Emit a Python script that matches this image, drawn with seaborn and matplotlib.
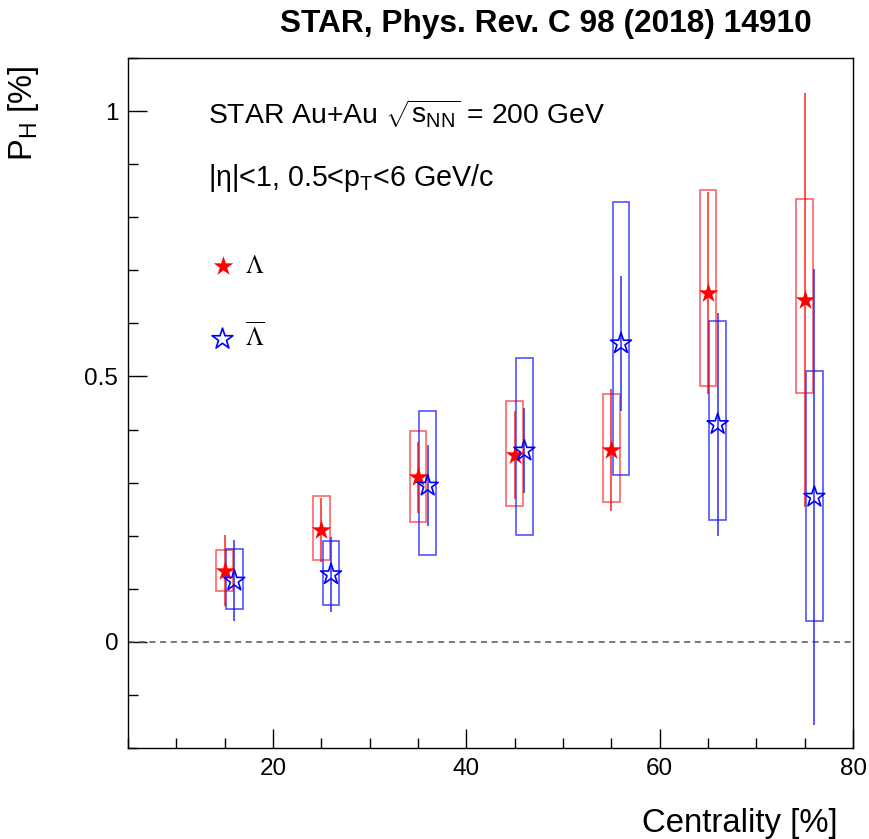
import matplotlib
matplotlib.use("Agg")
import matplotlib.pyplot as plt
import seaborn as sns
import numpy as np
from matplotlib.ticker import MultipleLocator, FixedLocator, FixedFormatter

# ---------------- data ----------------
lam_x = [15, 25, 35, 45, 55, 65, 75]
lam_y = [0.134, 0.211, 0.310, 0.352, 0.361, 0.657, 0.645]
lam_stat = [0.067, 0.060, 0.067, 0.082, 0.115, 0.190, 0.390]
lam_sys_lo = [0.095, 0.154, 0.225, 0.256, 0.264, 0.482, 0.469]
lam_sys_hi = [0.173, 0.274, 0.397, 0.454, 0.467, 0.852, 0.834]

alam_x = [16, 26, 36, 46, 56, 66, 76]
alam_y = [0.115, 0.127, 0.294, 0.360, 0.562, 0.410, 0.273]
alam_stat = [0.076, 0.070, 0.076, 0.080, 0.127, 0.210, 0.430]
alam_sys_lo = [0.061, 0.070, 0.164, 0.202, 0.315, 0.229, 0.039]
alam_sys_hi = [0.174, 0.190, 0.434, 0.534, 0.828, 0.605, 0.511]

x_major = [20, 40, 60, 80]
x_major_labels = ["20", "40", "60", "80"]
y_major = [0.0, 0.5, 1.0]
y_major_labels = ["0", "0.5", "1"]

title_text = "STAR, Phys. Rev. C 98 (2018) 14910"
line1_text = r"STAR Au+Au $\sqrt{\mathrm{s}_{\mathrm{NN}}}$ = 200 GeV"
line2_text = r"|η|<1, 0.5<p$_{\mathrm{T}}$<6 GeV/c"
xlabel_text = "Centrality [%]"
ylabel_text = r"P$_{\mathrm{H}}$ [%]"
lam_label = r"$\Lambda$"
alam_label = r"$\overline{\Lambda}$"

# ---------------- style ----------------
sns.set_style("ticks")
plt.rcParams["font.family"] = ["Liberation Sans", "DejaVu Sans"]
plt.rcParams["mathtext.fontset"] = "custom"
plt.rcParams["mathtext.rm"] = "Liberation Sans"
plt.rcParams["mathtext.it"] = "Liberation Sans:italic"
plt.rcParams["mathtext.bf"] = "Liberation Sans:bold"
plt.rcParams["text.color"] = "black"
plt.rcParams["axes.labelcolor"] = "black"
plt.rcParams["xtick.color"] = "black"
plt.rcParams["ytick.color"] = "black"
plt.rcParams["xtick.labelcolor"] = "black"
plt.rcParams["ytick.labelcolor"] = "black"

W, H = 869, 839
fig = plt.figure(figsize=(W / 100, H / 100), dpi=100)
fig.patch.set_facecolor("white")
ax = fig.add_axes([128 / W, 1 - 748 / H, (853 - 128) / W, (748 - 58) / H])
ax.set_facecolor("white")

red = "#ff0000"
blue = "#0000ff"
box_w = 1.7

# systematic boxes
ax.bar(lam_x, np.array(lam_sys_hi) - np.array(lam_sys_lo), bottom=lam_sys_lo,
       width=box_w, fill=False, edgecolor=(1, 0, 0, 0.6), linewidth=1.2, zorder=2)
ax.bar(alam_x, np.array(alam_sys_hi) - np.array(alam_sys_lo), bottom=alam_sys_lo,
       width=box_w, fill=False, edgecolor=(0.1, 0.1, 1, 0.75), linewidth=1.2, zorder=2)

# statistical error bars
ax.errorbar(lam_x, lam_y, yerr=lam_stat, fmt="none", ecolor=(1, 0, 0, 0.8),
            elinewidth=1.2, capsize=0, zorder=3)
ax.errorbar(alam_x, alam_y, yerr=alam_stat, fmt="none", ecolor=(0.1, 0.1, 1, 0.85),
            elinewidth=1.2, capsize=0, zorder=3)

# points
sns.scatterplot(x=lam_x, y=lam_y, marker="*", s=220, color=red, linewidth=0,
                ax=ax, zorder=5, label=lam_label)
sns.scatterplot(x=alam_x, y=alam_y, marker="*", s=250, facecolors="none",
                edgecolors=blue, linewidth=1.2, ax=ax, zorder=5, label=alam_label)

# zero line
ax.axhline(0, color="#555555", linestyle=(0, (4, 3)), linewidth=1.1, zorder=1)

# axes
ax.set_xlim(5, 80)
ax.set_ylim(-0.2, 1.1)
ax.xaxis.set_major_locator(FixedLocator(x_major))
ax.xaxis.set_major_formatter(FixedFormatter(x_major_labels))
ax.xaxis.set_minor_locator(MultipleLocator(5))
ax.yaxis.set_major_locator(FixedLocator(y_major))
ax.yaxis.set_major_formatter(FixedFormatter(y_major_labels))
ax.yaxis.set_minor_locator(MultipleLocator(0.1))
ax.tick_params(which="both", direction="in", top=False, right=False,
               color="black", labelcolor="black")
ax.tick_params(which="major", length=14, width=1.0, labelsize=17.5, pad=7)
ax.tick_params(which="minor", length=7, width=1.0)
for s in ax.spines.values():
    s.set_visible(True)
    s.set_color("black")
    s.set_linewidth(1.0)
ax.set_xlabel("")
ax.set_ylabel("")

# legend
leg = ax.legend(loc="upper left", bbox_to_anchor=(210 / W, 1 - 254 / H),
                bbox_transform=fig.transFigure, frameon=False, fontsize=18,
                handlelength=1.0, handletextpad=0.4, labelspacing=1.75,
                borderpad=0, borderaxespad=0, markerscale=1.0)
for t in leg.get_texts():
    t.set_math_fontfamily("stix")
    t.set_color("black")

# texts
fig.text(280 / W, 1 - 32 / H, title_text, fontsize=22.8, fontweight="bold",
         ha="left", va="baseline", color="black")
fig.text(208 / W, 1 - 124 / H, line1_text, fontsize=20.4, ha="left",
         va="baseline", color="black")
fig.text(208 / W, 1 - 186 / H, line2_text, fontsize=20.6, ha="left",
         va="baseline", color="black")
fig.text(838 / W, 1 - 832 / H, xlabel_text, fontsize=23.7, ha="right",
         va="baseline", color="black")
fig.text(41 / W, 1 - 66 / H, ylabel_text, fontsize=23.5, rotation=90,
         ha="right", va="top", color="black")

fig.savefig("out.png", dpi=100, facecolor="white")
